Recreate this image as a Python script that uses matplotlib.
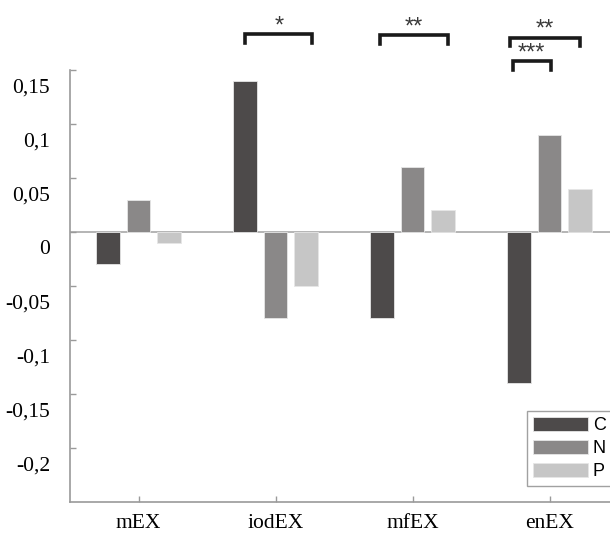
import numpy as np
import matplotlib.pyplot as plt

groups = ["mEX", "iodEX", "mfEX", "enEX"]
series_names = ["C", "N", "P"]
c_vals = [-0.03, 0.14, -0.08, -0.14]
n_vals = [0.03, -0.08, 0.06, 0.09]
p_vals = [-0.01, -0.05, 0.02, 0.04]

ytick_vals = [0.15, 0.1, 0.05, 0, -0.05, -0.1, -0.15, -0.2]
ytick_text = ["0,15", "0,1", "0,05", "0", "-0,05", "-0,1", "-0,15", "-0,2"]

# significance brackets: (x start, x end, y, stars)
brackets = [
    (0.78, 1.27, 0.183, "*"),
    (1.76, 2.26, 0.182, "**"),
    (2.71, 3.22, 0.180, "**"),
    (2.73, 3.01, 0.158, "***"),
]

colors = ["#4d4a4a", "#8a8888", "#c6c6c6"]

fig = plt.figure(figsize=(6.10, 5.34), dpi=100)
ax = fig.add_axes([70 / 610, 32 / 534, 548 / 610, 432 / 534])

x = np.arange(len(groups))
width = 0.175
step = 0.22
for i, (vals, name) in enumerate(zip([c_vals, n_vals, p_vals], series_names)):
    ax.bar(x + (i - 1) * step, vals, width, color=colors[i], edgecolor="#e6e6e6",
           linewidth=0.6, label=name, zorder=2)

ax.axhline(0, color="#b4b4b4", lw=1.4, zorder=1)

ax.set_xlim(-0.5, 3.5)
ax.set_ylim(-0.25, 0.15)

for s in ["top", "right"]:
    ax.spines[s].set_visible(False)
for s in ["left", "bottom"]:
    ax.spines[s].set_color("#9a9a9a")
    ax.spines[s].set_linewidth(1.2)

ax.set_xticks(x)
ax.set_xticklabels(groups, fontfamily="Liberation Serif", fontsize=15.5)
ax.set_yticks(ytick_vals)
ax.set_yticklabels([])
ax.tick_params(direction="in", length=4, color="#9a9a9a", width=1)
ax.tick_params(axis="x", pad=9)

# y labels sit a bit below their ticks
for v, t in zip(ytick_vals, ytick_text):
    ax.annotate(t, xy=(0, v), xycoords=("axes fraction", "data"),
                xytext=(-20, -18), textcoords="offset pixels",
                ha="right", va="center", fontfamily="Liberation Serif", fontsize=15.5)

for x0, x1, y, stars in brackets:
    h = 0.008
    ax.plot([x0, x0, x1, x1], [y - h, y, y, y - h], color="#1a1a1a", lw=2.6,
            clip_on=False, solid_joinstyle="miter")
    ax.text((x0 + x1) / 2, y + 0.0015, stars, ha="center", va="baseline",
            fontfamily="Liberation Sans", fontsize=17, color="#3a3a3a")

leg = ax.legend(loc="lower left", bbox_to_anchor=(0.834, 0.036), borderaxespad=0,
                frameon=True, fancybox=False, edgecolor="#8a8a8a",
                handlelength=3.0, handleheight=0.85, borderpad=0.35,
                labelspacing=0.3, handletextpad=0.3,
                prop={"family": "Liberation Sans", "size": 13})
leg.get_frame().set_linewidth(1.0)

fig.savefig("out.png", dpi=100)
